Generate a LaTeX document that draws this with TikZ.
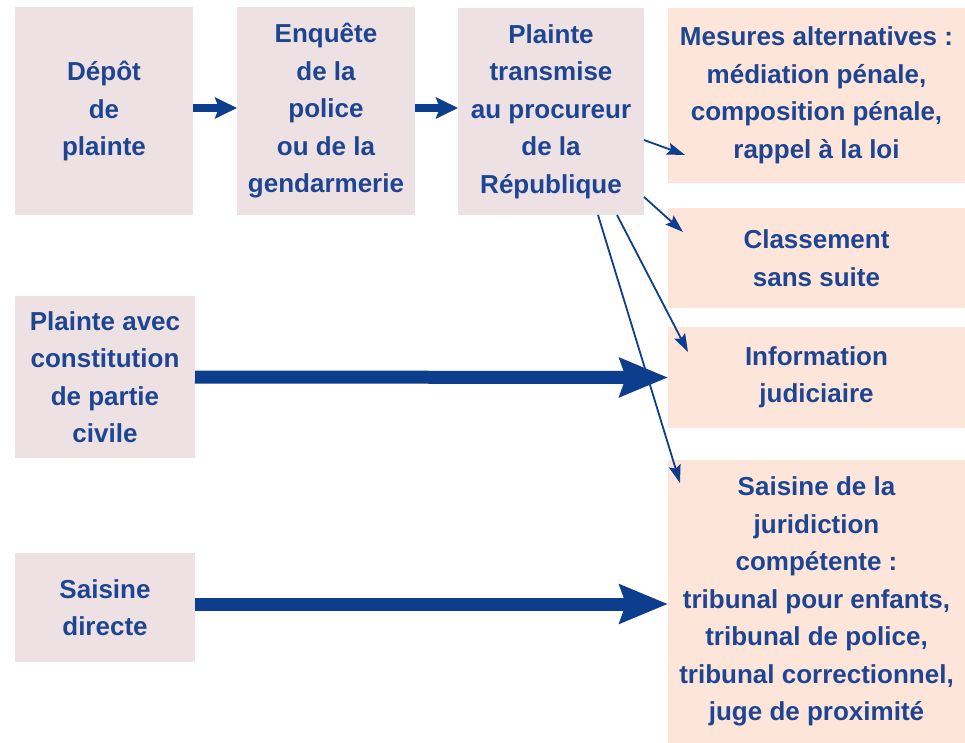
\documentclass[tikz,border=0pt]{standalone}
\usepackage{fontspec}
\setmainfont{Liberation Sans}
\usepackage{xcolor}
\usetikzlibrary{arrows.meta}
\definecolor{textblue}{HTML}{1E4592}
\definecolor{arrowblue}{HTML}{0D3E8E}
\definecolor{greybox}{HTML}{EDE1E4}
\definecolor{peachbox}{HTML}{FDE5D9}
\tikzset{
    box/.style={rectangle, inner sep=0pt, outer sep=0pt, align=center, text=textblue,
        font=\fontsize{26}{37.5}\selectfont\bfseries},
    stepsbox/.style={box, fill=greybox},
    resultbox/.style={box, fill=peachbox, minimum width=297, anchor=west},
    shortarrow/.style={-{Stealth[length=22pt, width=21pt, inset=4pt]}, line width=8pt, arrowblue},
    longarrow/.style={-{Stealth[length=48pt, width=38pt, inset=6pt]}, line width=13pt, arrowblue},
    thinarrow/.style={-{Stealth[length=18pt, width=12pt, inset=3pt]}, line width=1.8pt, arrowblue}
}
\begin{document}
\begin{tikzpicture}[x=1pt, y=-1pt]
\useasboundingbox (0,0) rectangle (965,743);

% Top row
\node[stepsbox, minimum width=178, minimum height=208] (depot) at (104,111) {Dépôt\\de\\plainte};
\node[stepsbox, minimum width=178, minimum height=208] (enquete) at (326,111) {Enquête\\de la\\police\\ou de la\\gendarmerie};
\node[stepsbox, minimum width=186, minimum height=207] (procureur) at (551,111.5) {Plainte\\transmise\\au procureur\\de la\\République};

% Left column
\node[stepsbox, minimum width=180, minimum height=162] (partiecivile) at (105,377) {Plainte avec\\constitution\\de partie\\civile};
\node[stepsbox, minimum width=180, minimum height=109] (directe) at (105,607.5) {Saisine\\directe};

% Outcomes
\node[resultbox, minimum height=175] (mesures) at (668,95.5) {Mesures alternatives :\\médiation pénale,\\composition pénale,\\rappel à la loi};
\node[resultbox, minimum height=100] (classement) at (668,258) {Classement\\sans suite};
\node[resultbox, minimum height=101] (information) at (668,377.5) {Information\\judiciaire};
\node[resultbox, minimum height=283] (juridiction) at (668,601.5) {Saisine de la\\juridiction\\compétente :\\tribunal pour enfants,\\tribunal de police,\\tribunal correctionnel,\\juge de proximité};

% Arrows
\draw[shortarrow] (depot.east |- 0,108) -- (enquete.west |- 0,108);
\draw[shortarrow] (enquete.east |- 0,108) -- (procureur.west |- 0,108);
\draw[longarrow] (partiecivile.east) -- (information.west);
\draw[longarrow] (directe.east |- 0,604) -- (juridiction.west |- 0,604);

\draw[thinarrow] ([yshift=-28.5pt]procureur.east) -- ([xshift=17pt, yshift=-59.5pt]mesures.west);
\draw[thinarrow] ([yshift=-85.5pt]procureur.east) -- ([xshift=15pt, yshift=26pt]classement.west);
\draw[thinarrow] ([xshift=66pt]procureur.south) -- ([xshift=20pt, yshift=25.5pt]information.west);
\draw[thinarrow] ([xshift=47pt]procureur.south) -- ([xshift=12pt, yshift=118.5pt]juridiction.west);
\end{tikzpicture}
\end{document}
